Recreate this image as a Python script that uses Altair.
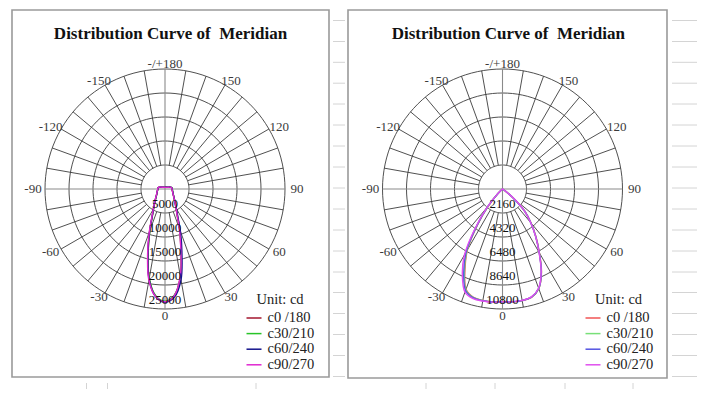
import math
import altair as alt
import pandas as pd

# ---------------- data ----------------
GAMMA = [0, 5, 10, 15, 20, 25, 30, 35, 40, 45, 50, 55, 60, 65, 70, 75, 80, 85, 90,
         100, 110, 120, 135, 150, 165, 180]
SERIES = ["c0 /180", "c30/210", "c60/240", "c90/270"]
LEFT_COLORS = ["#a3162e", "#28c428", "#14148c", "#e028d0"]
RIGHT_COLORS = ["#f05454", "#78e078", "#5454e2", "#e050ee"]

LEFT_RINGS = [5000, 10000, 15000, 20000, 25000]
RIGHT_RINGS = [2160, 4320, 6480, 8640, 10800]

ANGLE_TICKS = [180, 150, 120, 90, 60, 30, 0, -30, -60, -90, -120, -150]
ANGLE_LABELS = ["-/+180", "150", "120", "90", "60", "30", "0", "-30", "-60", "-90", "-120", "-150"]
TITLE = "Distribution Curve of\u00a0 Meridian"
UNIT = "Unit: cd"

# left panel intensities (cd); _R = positive-angle half, _L = negative-angle half
L_C0_R = [23500, 22300, 18500, 12800, 8800, 6000, 4600, 3700, 3100, 2650, 2350, 2100, 1930,
          1800, 1700, 1600, 1540, 1490, 1460, 1420, 1150, 720, 500, 410, 370, 350]
L_C0_L = [23500, 22400, 19000, 13600, 9300, 6300, 4800, 3850, 3200, 2750, 2400, 2150, 1980,
          1850, 1750, 1650, 1580, 1530, 1500, 1450, 1180, 740, 510, 420, 370, 350]
L_C30_R = [23400, 22200, 18600, 12900, 8900, 6100, 4650, 3750, 3150, 2700, 2400, 2150, 1980,
           1860, 1760, 1660, 1600, 1560, 1520, 1440, 1160, 730, 500, 410, 370, 350]
L_C30_L = [23400, 22300, 18900, 13500, 9200, 6250, 4750, 3800, 3180, 2720, 2380, 2130, 1960,
           1830, 1730, 1640, 1570, 1520, 1490, 1440, 1170, 730, 510, 420, 370, 350]
L_C60_R = [23600, 22600, 19200, 13600, 9400, 6300, 4750, 3800, 3150, 2680, 2370, 2120, 1950,
           1820, 1720, 1620, 1560, 1510, 1480, 1430, 1160, 730, 500, 410, 370, 350]
L_C60_L = [23600, 22500, 19100, 13700, 9400, 6350, 4800, 3850, 3200, 2750, 2400, 2150, 1980,
           1850, 1750, 1650, 1580, 1530, 1500, 1450, 1180, 740, 510, 420, 370, 350]
L_C90_R = [23500, 22300, 18400, 12700, 8700, 5950, 4550, 3680, 3080, 2640, 2340, 2090, 1920,
           1790, 1690, 1590, 1530, 1480, 1450, 1410, 1140, 710, 490, 400, 360, 340]
L_C90_L = [23500, 22500, 19300, 14000, 9600, 6500, 4900, 3920, 3260, 2800, 2440, 2180, 2000,
           1870, 1770, 1670, 1600, 1550, 1520, 1470, 1190, 750, 520, 430, 380, 360]

# right panel intensities (cd)
R_C0_R = [10170, 10210, 10200, 10100, 9550, 8300, 6650, 5250, 4000, 2850, 1300, 250, 40,
          10, 10, 10, 10, 10, 10, 10, 10, 10, 10, 10, 10, 10]
R_C0_L = [10170, 10210, 10190, 10100, 9600, 8000, 6300, 3850, 1950, 550, 80, 15, 10,
          10, 10, 10, 10, 10, 10, 10, 10, 10, 10, 10, 10, 10]
R_C30_R = [10170, 10210, 10200, 10080, 9540, 8280, 6630, 5220, 3980, 2830, 1290, 240, 40,
           10, 10, 10, 10, 10, 10, 10, 10, 10, 10, 10, 10, 10]
R_C30_L = [10170, 10210, 10200, 10120, 9650, 8100, 6400, 3950, 2000, 580, 85, 15, 10,
           10, 10, 10, 10, 10, 10, 10, 10, 10, 10, 10, 10, 10]
R_C60_R = [10160, 10200, 10190, 10070, 9520, 8260, 6600, 5200, 3960, 2820, 1280, 240, 40,
           10, 10, 10, 10, 10, 10, 10, 10, 10, 10, 10, 10, 10]
R_C60_L = [10160, 10210, 10210, 10150, 9720, 8250, 6550, 4050, 2050, 600, 90, 15, 10,
           10, 10, 10, 10, 10, 10, 10, 10, 10, 10, 10, 10, 10]
R_C90_R = [10150, 10190, 10180, 10050, 9500, 8230, 6580, 5180, 3940, 2810, 1270, 240, 40,
           10, 10, 10, 10, 10, 10, 10, 10, 10, 10, 10, 10, 10]
R_C90_L = [10150, 10220, 10240, 10220, 9880, 8550, 6850, 4250, 2150, 650, 100, 15, 10,
           10, 10, 10, 10, 10, 10, 10, 10, 10, 10, 10, 10, 10]

LEFT_CURVES = [(L_C0_R, L_C0_L), (L_C30_R, L_C30_L), (L_C60_R, L_C60_L), (L_C90_R, L_C90_L)]
RIGHT_CURVES = [(R_C0_R, R_C0_L), (R_C30_R, R_C30_L), (R_C60_R, R_C60_L), (R_C90_R, R_C90_L)]

# spreadsheet background grid (page pixels)
SHEET_ROWS = [20.5, 41.5, 62.3, 83.2, 104, 125, 146, 167, 188, 209, 230, 251, 272,
              292.5, 313.5, 334.5, 355.5, 376.5]
SHEET_COLS = [86.5, 107.5, 256, 426, 495, 565, 633]

# ---------------- layout ----------------
PAGE = 8
W, H = 689, 381
CY = 189.0
R = 120.0
PANELS = [
    dict(cx=165.0, rings=LEFT_RINGS, curves=LEFT_CURVES, title_x=170.5,
         frame=(12, 10, 329, 377), image=(5, 8, 333, 383), legend_x=245.5, unit_x=256.5),
    dict(cx=502.5, rings=RIGHT_RINGS, curves=RIGHT_CURVES, title_x=508.3,
         frame=(348, 10, 667, 378), image=(345, 8, 672, 383), legend_x=584.5, unit_x=595.0),
]
LEGEND_FIRST_ROW = 317.0  # page y of first legend entry centre


def polar(cx, r_px, ang):
    a = math.radians(ang)
    return cx + r_px * math.sin(a), CY + r_px * math.cos(a)


ring_rows, spoke_rows, axis_rows, rlab_rows, alab_rows = [], [], [], [], []
title_rows, unit_rows, frame_rows, image_rows = [], [], [], []
curve_frames = []
for pi, p in enumerate(PANELS):
    cx, rings = p["cx"], p["rings"]
    vmax = rings[-1]
    for k, v in enumerate(rings):
        rp = v / vmax * R
        for s, t in enumerate(range(0, 361, 3)):
            x, y = polar(cx, rp, t)
            ring_rows.append(dict(key=f"{pi}-{k}", seq=s, x=x, y=y))
        rlab_rows.append(dict(x=cx, y=CY + rp - 5, label=str(v)))
    r0 = rings[0] / vmax * R
    for ang in range(10, 360, 10):
        if ang % 90 == 0:
            continue
        x1, y1 = polar(cx, r0, ang)
        x2, y2 = polar(cx, R, ang)
        spoke_rows.append(dict(x=x1, y=y1, x2=x2, y2=y2))
    axis_rows.append(dict(x=cx - R, y=CY, x2=cx + R, y2=CY))
    axis_rows.append(dict(x=cx, y=CY - R, x2=cx, y2=CY + R))
    for ang, lab in zip(ANGLE_TICKS, ANGLE_LABELS):
        a = math.radians(ang)
        ry = 127 if ang == 0 else 125
        alab_rows.append(dict(x=cx + 132 * math.sin(a), y=CY + ry * math.cos(a), label=lab))
    title_rows.append(dict(x=p["title_x"], y=38.5, label=TITLE))
    unit_rows.append(dict(x=p["unit_x"], y=304, label=UNIT))
    fx1, fy1, fx2, fy2 = p["frame"]
    frame_rows.append(dict(x=fx1, y=fy1, x2=fx2, y2=fy2))
    ix1, iy1, ix2, iy2 = p["image"]
    image_rows.append(dict(x=ix1, y=iy1, x2=ix2, y2=iy2))

    rows = []
    for name, (right, left) in zip(SERIES, p["curves"]):
        seq = 0
        for g, v in zip(reversed(GAMMA), reversed(left)):
            x, y = polar(cx, v / vmax * R, -g)
            rows.append(dict(series=name, seq=seq, x=x, y=y))
            seq += 1
        for g, v in zip(GAMMA[1:], right[1:]):
            x, y = polar(cx, v / vmax * R, g)
            rows.append(dict(series=name, seq=seq, x=x, y=y))
            seq += 1
    curve_frames.append(pd.DataFrame(rows))

xs = alt.Scale(domain=[PAGE, PAGE + W], nice=False, zero=False)
ys = alt.Scale(domain=[PAGE, PAGE + H], nice=False, zero=False, reverse=True)


def X(f="x"):
    return alt.X(f"{f}:Q", scale=xs, axis=None)


def Y(f="y"):
    return alt.Y(f"{f}:Q", scale=ys, axis=None)


layers = []
# spreadsheet grid
layers.append(alt.Chart(pd.DataFrame({"y": SHEET_ROWS})).mark_rule(color="#d4d4d4", strokeWidth=1)
              .encode(y=Y(), x=alt.value(0), x2=alt.value(W)))
layers.append(alt.Chart(pd.DataFrame({"x": SHEET_COLS})).mark_rule(color="#d4d4d4", strokeWidth=1)
              .encode(x=X(), y=alt.value(0), y2=alt.value(H)))
# chart images and frames
layers.append(alt.Chart(pd.DataFrame(image_rows)).mark_rect(fill="white")
              .encode(x=X(), y=Y(), x2=alt.X2("x2:Q"), y2=alt.Y2("y2:Q")))
layers.append(alt.Chart(pd.DataFrame(frame_rows)).mark_rect(fill="white", stroke="#9a9a9a", strokeWidth=1.6)
              .encode(x=X(), y=Y(), x2=alt.X2("x2:Q"), y2=alt.Y2("y2:Q")))
# polar grid
layers.append(alt.Chart(pd.DataFrame(ring_rows)).mark_line(color="#3c3c3c", strokeWidth=0.9)
              .encode(x=X(), y=Y(), detail="key:N", order="seq:Q"))
layers.append(alt.Chart(pd.DataFrame(spoke_rows)).mark_rule(color="#3c3c3c", strokeWidth=0.9)
              .encode(x=X(), y=Y(), x2=alt.X2("x2:Q"), y2=alt.Y2("y2:Q")))
layers.append(alt.Chart(pd.DataFrame(axis_rows)).mark_rule(color="#8a8a8a", strokeWidth=1.1)
              .encode(x=X(), y=Y(), x2=alt.X2("x2:Q"), y2=alt.Y2("y2:Q")))

# curves with legends
for pi, (df, colors) in enumerate(zip(curve_frames, [LEFT_COLORS, RIGHT_COLORS])):
    field = "series" if pi == 0 else "series_r"
    df = df.rename(columns={"series": field})
    leg = alt.Legend(orient="none", legendX=PANELS[pi]["legend_x"] - PAGE,
                     legendY=LEGEND_FIRST_ROW - 7.5 - PAGE,
                     title=None, symbolType="stroke", symbolSize=225, symbolStrokeWidth=1.5,
                     labelFont="Liberation Serif", labelFontSize=14.5, labelColor="#222222",
                     labelOffset=5, rowPadding=0.6, padding=0, offset=0)
    layers.append(alt.Chart(df).mark_line(strokeWidth=1.4, interpolate="catmull-rom")
                  .encode(x=X(), y=Y(),
                          color=alt.Color(f"{field}:N", scale=alt.Scale(domain=SERIES, range=colors),
                                          legend=leg),
                          order="seq:Q"))

# texts
layers.append(alt.Chart(pd.DataFrame(rlab_rows)).mark_text(font="Liberation Serif", fontSize=13,
                                                          color="#111111", align="center",
                                                          baseline="alphabetic")
              .encode(x=X(), y=Y(), text="label:N"))
layers.append(alt.Chart(pd.DataFrame(alab_rows)).mark_text(font="Liberation Serif", fontSize=13,
                                                          color="#3a3a3a", align="center",
                                                          baseline="middle")
              .encode(x=X(), y=Y(), text="label:N"))
layers.append(alt.Chart(pd.DataFrame(title_rows)).mark_text(font="Liberation Serif", fontSize=17,
                                                           fontWeight="bold", color="#111111",
                                                           align="center", baseline="alphabetic")
              .encode(x=X(), y=Y(), text="label:N"))
layers.append(alt.Chart(pd.DataFrame(unit_rows)).mark_text(font="Liberation Serif", fontSize=14.5,
                                                          color="#222222", align="left",
                                                          baseline="alphabetic")
              .encode(x=X(), y=Y(), text="label:N"))

chart = (alt.layer(*layers)
         .resolve_scale(color="independent")
         .properties(width=W, height=H, autosize=alt.AutoSizeParams(type="none"),
                     padding={"left": 0, "top": 0, "right": 0, "bottom": 0})
         .configure_view(stroke="transparent"))

chart.save("out.html", embed_options={"renderer": "svg", "actions": False})
